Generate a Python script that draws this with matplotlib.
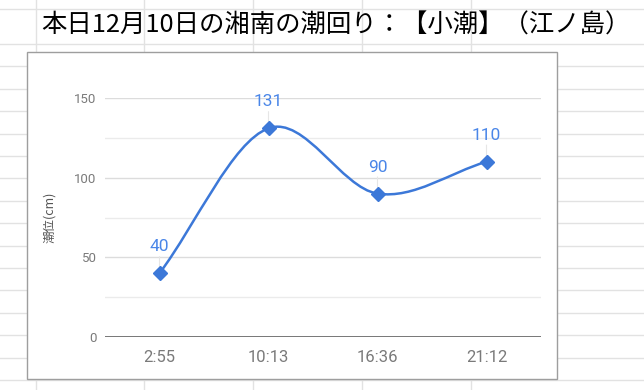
"""Shonan tide chart (Enoshima) recreated as a spreadsheet-style line chart."""

import matplotlib

matplotlib.use("Agg")
import matplotlib.pyplot as plt  # noqa: E402
from matplotlib.lines import Line2D  # noqa: E402
from matplotlib.patches import PathPatch, Rectangle  # noqa: E402
from matplotlib.path import Path  # noqa: E402

# data
times = ["2:55", "10:13", "16:36", "21:12"]
tide_cm = [40, 131, 90, 110]
title = "本日12月10日の湘南の潮回り：【小潮】（江ノ島）"
ylabel = "潮位(cm)"

W, H = 644, 390
LINE_BLUE = "#3c78d8"
LABEL_BLUE = "#4a86e8"
SHEET_GRID = "#e2e2e2"
TICK_GRAY = "#7a7a7a"


def fx(px):
    return px / W


def fy(py):
    return 1.0 - py / H


def smooth_path(xs, ys):
    """Cardinal-spline bezier through the points (Sheets 'smooth' line)."""
    n = len(xs)
    slopes = []
    for i in range(n):
        if i == 0:
            slopes.append((ys[1] - ys[0]) / (xs[1] - xs[0]))
        elif i == n - 1:
            slopes.append((ys[-1] - ys[-2]) / (xs[-1] - xs[-2]))
        else:
            slopes.append((ys[i + 1] - ys[i - 1]) / (xs[i + 1] - xs[i - 1]))
    verts = [(xs[0], ys[0])]
    codes = [Path.MOVETO]
    for i in range(n - 1):
        dx = (xs[i + 1] - xs[i]) / 3.0
        verts += [(xs[i] + dx, ys[i] + slopes[i] * dx),
                  (xs[i + 1] - dx, ys[i + 1] - slopes[i + 1] * dx),
                  (xs[i + 1], ys[i + 1])]
        codes += [Path.CURVE4] * 3
    return Path(verts, codes)


fig = plt.figure(figsize=(W / 100, H / 100), dpi=100)
fig.patch.set_facecolor("white")

# spreadsheet cell lines behind the chart
row_lines = [9, 44] + [44 + 22.4 * k for k in range(1, 16)]
col_lines = [36, 144, 253, 362, 471]
for y in row_lines:
    fig.add_artist(Line2D([0, 1], [fy(y), fy(y)], color=SHEET_GRID,
                          lw=1.0, zorder=0))
for x in col_lines:
    fig.add_artist(Line2D([fx(x), fx(x)], [0, 1], color=SHEET_GRID,
                          lw=1.0, zorder=0))

# chart box
fig.add_artist(Rectangle((fx(27), fy(379)), fx(557) - fx(27),
                         fy(52) - fy(379), facecolor="white",
                         edgecolor="#9e9e9e", lw=1.0, zorder=1))

fig.text(fx(41), fy(26), title, fontsize=18.3, color="black",
         ha="left", va="center", family=["Noto Sans CJK JP", "DejaVu Sans"],
         zorder=2)

ax = fig.add_axes([fx(105), fy(337), fx(541) - fx(105), fy(98) - fy(337)],
                  zorder=3)
ax.patch.set_alpha(0)
for s in ax.spines.values():
    s.set_visible(False)

xs = list(range(len(times)))
ax.set_xlim(-0.5, len(times) - 0.5)
ax.set_ylim(0, 150)
ax.set_yticks([0, 50, 100, 150])
ax.set_yticks([25, 75, 125], minor=True)
ax.grid(axis="y", which="major", color="#dcdcdc", lw=1.0, zorder=0)
ax.grid(axis="y", which="minor", color="#ebebeb", lw=1.0, zorder=0)
ax.axhline(0, color="#5f5f5f", lw=1.4, zorder=1)
ax.set_xticks(xs)
ax.set_xticklabels(times)
ax.tick_params(axis="x", length=0, pad=9, labelsize=12, labelcolor=TICK_GRAY)
ax.tick_params(axis="y", which="both", length=0, pad=6, labelsize=9.5,
               labelcolor=TICK_GRAY)
for lab in ax.get_xticklabels() + ax.get_yticklabels():
    lab.set_family("Roboto")

ax.add_patch(PathPatch(smooth_path(xs, tide_cm), fill=False,
                       edgecolor=LINE_BLUE, lw=1.8, zorder=4))
ax.plot(xs, tide_cm, linestyle="none", marker="D", ms=7.5,
        color=LINE_BLUE, zorder=5)
for x, v in zip(xs, tide_cm):
    # faint leader from label to point
    ax.annotate("", (x, v), xytext=(0, 12), textcoords="offset points",
                xycoords="data", annotation_clip=False,
                arrowprops=dict(arrowstyle="-", color="#e6e6e6", lw=0.8,
                                shrinkA=0, shrinkB=4))
    ax.annotate(str(v), (x, v), xytext=(0, 19), textcoords="offset points",
                ha="center", va="center", fontsize=12.5, color=LABEL_BLUE,
                family="Roboto", annotation_clip=False, zorder=6)

fig.text(fx(50), fy(217), ylabel, rotation=90, fontsize=9, color="#555555",
         ha="center", va="center", family=["Noto Sans CJK JP", "DejaVu Sans"],
         zorder=4)

fig.savefig("out.png", dpi=100, facecolor="white")
